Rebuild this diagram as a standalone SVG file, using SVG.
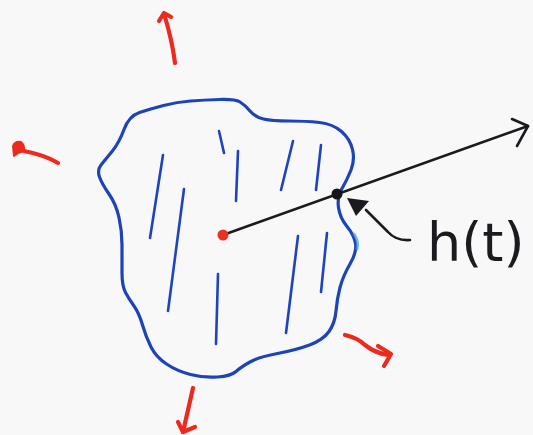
<svg xmlns="http://www.w3.org/2000/svg" width="533" height="435" viewBox="0 0 533 435">
<style>
.blue{fill:none;stroke:#1c44b8;stroke-width:3.2;stroke-linecap:round;stroke-linejoin:round}
.hatch{fill:none;stroke:#1c44c0;stroke-width:2.6;stroke-linecap:round}
.red{fill:none;stroke:#ec2a1e;stroke-width:4.2;stroke-linecap:round;stroke-linejoin:round}
.ink{fill:none;stroke:#1b1b1f;stroke-width:2.6;stroke-linecap:round;stroke-linejoin:round}
</style>
<rect width="533" height="435" fill="#f8f8f8"/>
<g id="blob">
<path class="blue" d="M124,129.5 Q129,116 139.5,112.5 Q150,109 163.5,105.5 Q177,102 190.5,101 Q204,100 219.5,99.5 Q235,99 240,102 Q245,105 250,111 Q255,117 263.5,119 Q272,121 289,121 Q306,121 319.5,122.5 Q333,124 341.5,131.5 Q350,139 352.5,149.5 Q355,160 351,170 Q347,180 342,188.5 Q337,197 338.5,207.5 Q340,218 347,226.5 Q354,235 355.5,243.5 Q357,252 350,264 Q343,276 340,287.5 Q337,299 336,311 Q335,323 329,331.5 Q323,340 309.5,345 Q296,350 277.5,353.5 Q259,357 250,362 Q241,367 236,371.5 Q231,376 217.5,377 Q204,378 190.5,374.5 Q177,371 166.5,364 Q156,357 151,347 Q146,337 142.5,325 Q139,313 134,306 Q129,299 125.5,292.5 Q122,286 122,272.5 Q122,259 122,245 Q122,231 119,217.5 Q116,204 109,194 Q102,184 99.5,177 Q97,170 101,165 Q105,160 112,151.5 Q119,143 124,129.5 Z"/>
<path d="M354,234 Q359,241 357,249" fill="none" stroke="#3d9be0" stroke-width="3" stroke-linecap="round" opacity="0.7"/>
<g id="hatching">
<path class="hatch" d="M163,155 L150,238"/>
<path class="hatch" d="M184,189 L168,311"/>
<path class="hatch" d="M219,131 L224,153"/>
<path class="hatch" d="M238,151 L236,201"/>
<path class="hatch" d="M293,141 L281,190"/>
<path class="hatch" d="M321,145 L316,190"/>
<path class="hatch" d="M218,274 L216,344"/>
<path class="hatch" d="M298,236 L286,333"/>
<path class="hatch" d="M327,233 L321,292"/>
</g>
</g>
<g id="connectors">
<path class="ink" d="M223,235 L528,126"/>
<path class="ink" d="M512,119 L528,126 L517,146"/>
<path class="ink" d="M410,240 Q396,241 388,232 L366,210"/>
<polygon points="347,198 369,201 356,216" fill="#1b1b1f"/>
</g>
<g id="center"><circle cx="223" cy="235" r="5.5" fill="#e8331f"/></g>
<g id="hit-point"><circle cx="337" cy="194" r="5.5" fill="#15151a"/></g>
<g id="label"><text x="427" y="261" font-family="DejaVu Sans, sans-serif" font-size="54" fill="#1b1b1f">h(t)</text></g>
<g id="red-arrows">
<path class="red" d="M175,63 Q172,40 165,17"/>
<path class="red" d="M159,21 L164,13 L171,17"/>
<path class="red" d="M58,163 Q45,155 24,151"/>
<path d="M14,156 L13,146 Q15,141 21,142 Q25,145 24,151 L18,153 Z" fill="#ec2a1e" stroke="#ec2a1e" stroke-width="2" stroke-linejoin="round"/>
<path class="red" d="M345,335 Q358,338 365,345 Q375,353 388,355"/>
<path class="red" d="M378,346 L391,354 L384,366"/>
<path class="red" d="M193,388 L183,432"/>
<path class="red" d="M178,422 L183,432 L195,427"/>
</g>
</svg>
